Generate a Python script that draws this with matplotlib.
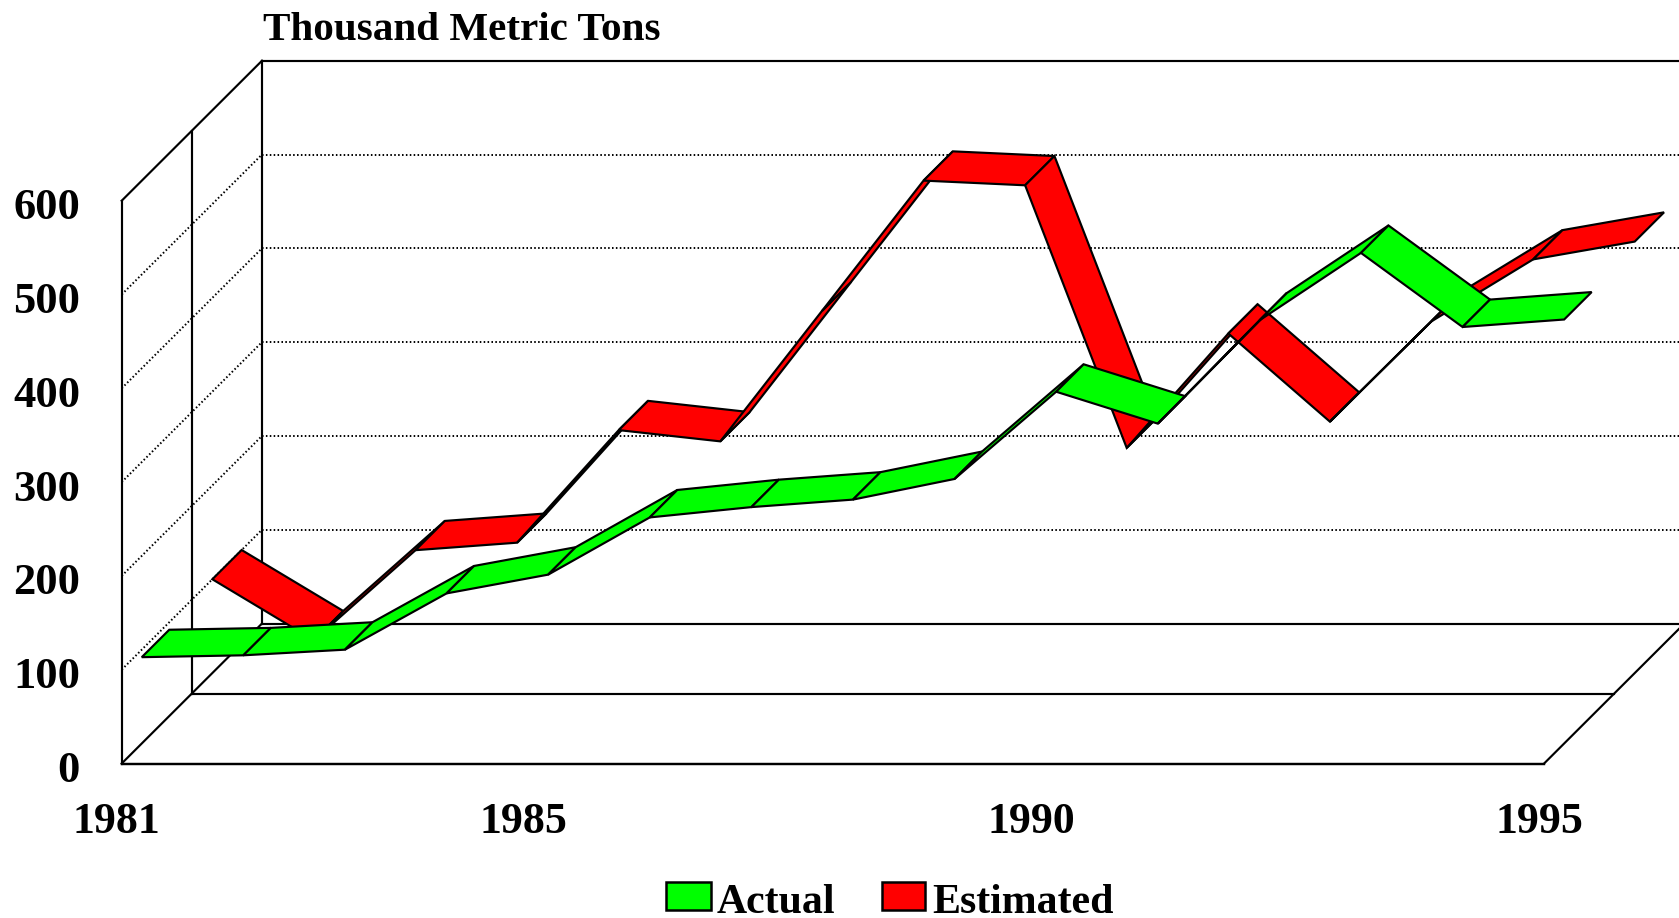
import matplotlib
matplotlib.use("Agg")
import matplotlib.pyplot as plt
from matplotlib.patches import Polygon, Rectangle

plt.rcParams['font.family'] = ['Liberation Serif', 'DejaVu Serif']

years = list(range(1981, 1996))
actual = [92, 94, 100, 160, 180, 241, 252, 260, 282, 375, 341, 451, 523, 444, 452]
estimated = [100, 35, 131, 139, 259, 247, 386, 525, 520, 240, 362, 268, 375, 441, 460]
y_ticks = [0, 100, 200, 300, 400, 500, 600]
x_labels = [1981, 1985, 1990, 1995]
title = "Thousand Metric Tons"
series_names = ["Actual", "Estimated"]
series_colors = ["#00ff00", "#ff0000"]

W, H = 1679, 918
X0, Y0 = 121.7, 763.5      # pixel position of (1981, 0) on the front plane
PX_YEAR, PX_VAL = 101.6, 0.938
DEPTH_DX, DEPTH_DY = 140.3 / PX_YEAR, 140.0 / PX_VAL
BAND_ACTUAL = (0.143, 0.339)
BAND_ESTIMATED = (0.646, 0.855)

fig = plt.figure(figsize=(W / 100, H / 100), dpi=100, facecolor='white')
ax = fig.add_axes([0, 0, 1, 1])
left = years[0] - X0 / PX_YEAR
ax.set_xlim(left, left + W / PX_YEAR)
ax.set_ylim(-(H - Y0) / PX_VAL, Y0 / PX_VAL)
ax.axis('off')


def proj(year, value, depth):
    return year + depth * DEPTH_DX, value + depth * DEPTH_DY


def line(p, q, **kw):
    ax.plot([p[0], q[0]], [p[1], q[1]], color='black', solid_capstyle='projecting',
            clip_on=True, **kw)


far = years[-1]
far_x = far + 2.0
top = y_ticks[-1]
LW = 1.55
DOT = (0, (0.8, 1.2))

# gridlines on left and back walls
for v in y_ticks[1:-1]:
    a, b = proj(years[0], v, 0), proj(years[0], v, 1)
    ax.plot([a[0], b[0]], [a[1], b[1]], color='black', lw=1.4, ls=DOT, zorder=1)
    ax.plot([b[0], far_x], [b[1], b[1]], color='black', lw=1.4, ls=DOT, zorder=1)

# box frame
y0 = years[0]
line(proj(y0, 0, 0), proj(y0, top, 0), lw=LW, zorder=2)
line(proj(y0, top, 0), proj(y0, top, 1), lw=LW, zorder=2)
line(proj(y0, 0, 1), proj(y0, top, 1), lw=LW, zorder=2)
line(proj(y0, top, 1), (far_x, proj(y0, top, 1)[1]), lw=LW, zorder=2)
line(proj(y0, 0, 0.5), proj(y0, top, 0.5), lw=LW, zorder=2)
line(proj(y0, 0, 0), proj(y0, 0, 1), lw=LW, zorder=2)
line(proj(y0, 0, 0), proj(far, 0, 0), lw=LW + 0.2, zorder=2)
line(proj(y0, 0, 0.5), proj(far, 0, 0.5), lw=LW, zorder=2)
line(proj(y0, 0, 1), (far_x, proj(y0, 0, 1)[1]), lw=LW, zorder=2)
line(proj(far, 0, 0), proj(far, 0, 1), lw=LW, zorder=2)


def ribbon(values, band, color, z):
    d0, d1 = band
    for i in range(len(values) - 1):
        pts = [proj(years[i], values[i], d0), proj(years[i + 1], values[i + 1], d0),
               proj(years[i + 1], values[i + 1], d1), proj(years[i], values[i], d1)]
        ax.add_patch(Polygon(pts, closed=True, facecolor=color, edgecolor='black',
                             lw=LW, joinstyle='miter', zorder=z + i * 0.01))


ribbon(estimated, BAND_ESTIMATED, series_colors[1], 3)
ribbon(actual, BAND_ACTUAL, series_colors[0], 4)

# text helpers in pixel coordinates of the figure
def fx(px):
    return px / W


def fy(py):
    return 1 - py / H


for v in y_ticks:
    py = Y0 - v * PX_VAL + 7.5
    fig.text(fx(80), fy(py), str(v), ha='right', va='center', fontsize=32, fontweight='bold')

for yr in x_labels:
    px = X0 + (yr - years[0]) * PX_YEAR - 5
    fig.text(fx(px), fy(833), str(yr), ha='center', va='baseline', fontsize=31.5, fontweight='bold')

fig.text(fx(263), fy(40), title, ha='left', va='baseline', fontsize=29.6, fontweight='bold')

legend_boxes = [(666, 710.5), (882, 925)]
legend_text_x = [717, 932.5]
for (x1, x2), tx, name, col in zip(legend_boxes, legend_text_x, series_names, series_colors):
    fig.add_artist(Rectangle((fx(x1), fy(910)), fx(x2 - x1), 28 / H, transform=fig.transFigure,
                             facecolor=col, edgecolor='black', lw=1.8))
    fig.text(fx(tx), fy(913), name, ha='left', va='baseline', fontsize=30.2, fontweight='bold')

fig.savefig('out.png', dpi=100, facecolor='white')
